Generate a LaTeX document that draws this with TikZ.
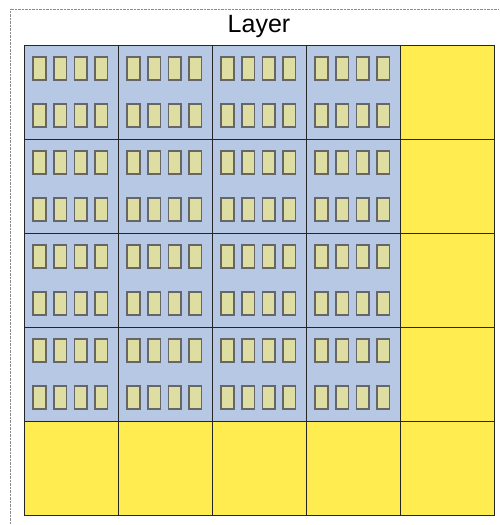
\documentclass[tikz,border=0pt]{standalone}
\usepackage{fontspec}
\setmainfont{Liberation Sans}
\usetikzlibrary{calc}
\definecolor{cellblue}{RGB}{182,200,228}
\definecolor{cellyellow}{RGB}{255,236,80}
\definecolor{unitfill}{RGB}{222,221,162}
\tikzset{
  cell/.style={draw=black!85, line width=1pt, minimum size=94pt, inner sep=0pt, outer sep=0pt},
  unit/.style={draw=black!60, line width=1.6pt, fill=unitfill, minimum width=12.5pt, minimum height=23.5pt, inner sep=0pt},
}
\begin{document}
\begin{tikzpicture}[x=1pt,y=-1pt]
  \useasboundingbox (0,0) rectangle (499,525);
  % frame
  \coordinate (fa) at (10,525);
  \coordinate (fb) at (10,9);
  \coordinate (fc) at (499,9);
  \draw[black!45, densely dotted] (fa) -- (fb) -- (fc);

  % title
  \node (title) at (259,26) {\fontsize{25}{30}\selectfont Layer};

  % cells
  \foreach \r in {0,...,4} {
    \foreach \c in {0,...,4} {
      \pgfmathsetmacro{\cx}{71+94*\c}
      \pgfmathsetmacro{\cy}{92+94*\r}
      \ifnum\r<4 \ifnum\c<4
        \node[cell, fill=cellblue] (c-\r-\c) at (\cx,\cy) {};
        % units inside
        \foreach \k in {0,...,3} {
          \node[unit] (u-\r-\c-\k-a) at ($(c-\r-\c.north west)+(15.5+20.6*\k,23.5)$) {};
          \node[unit] (u-\r-\c-\k-b) at ($(c-\r-\c.north west)+(15.5+20.6*\k,70.5)$) {};
        }
      \else
        \node[cell, fill=cellyellow] (c-\r-\c) at (\cx,\cy) {};
      \fi
      \else
        \node[cell, fill=cellyellow] (c-\r-\c) at (\cx,\cy) {};
      \fi
    }
  }
\end{tikzpicture}
\end{document}
